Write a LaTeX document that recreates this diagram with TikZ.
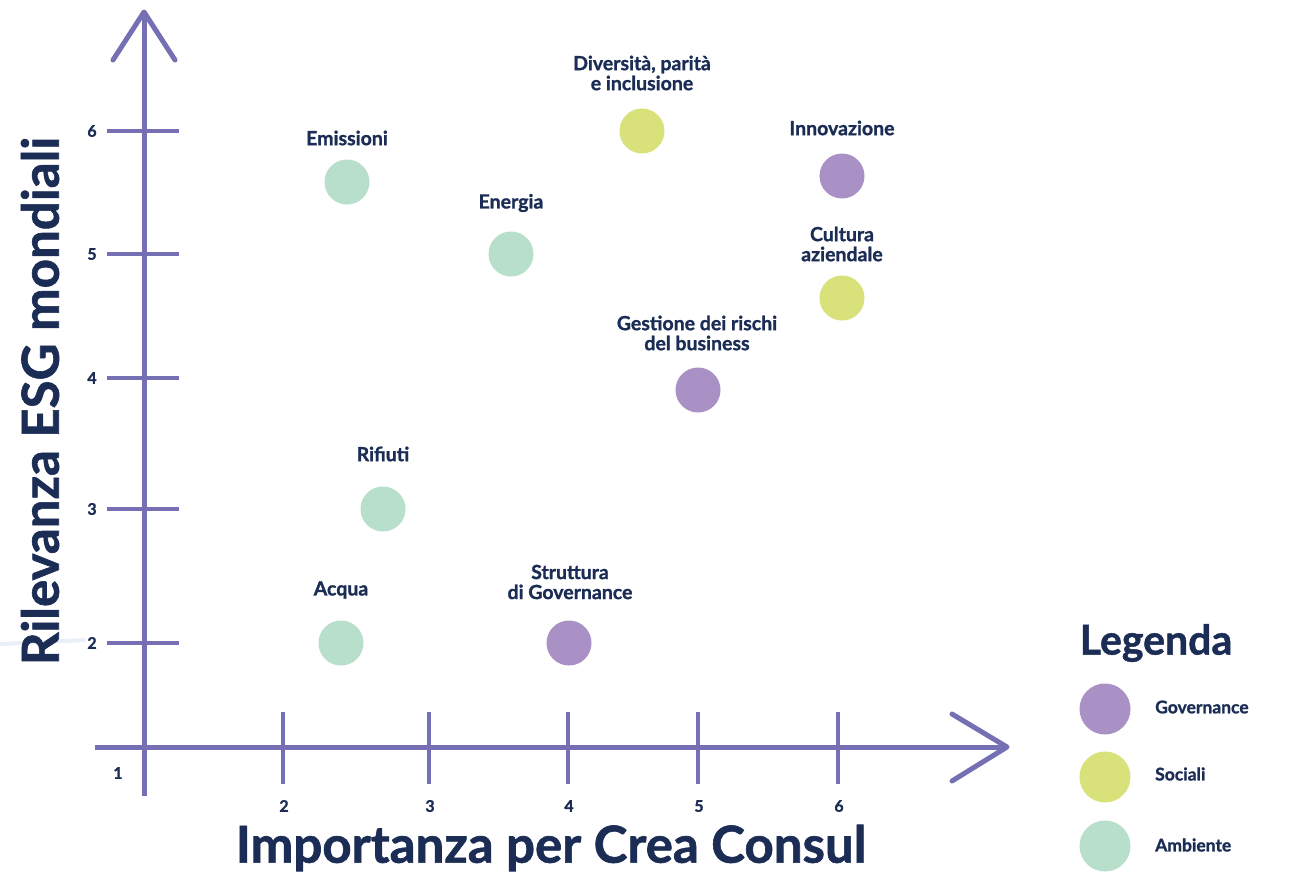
\documentclass[tikz,border=0pt]{standalone}
\usepackage{fontspec}
\setmainfont{Lato}[BoldFeatures={FakeBold=1.2}]
\definecolor{axis}{HTML}{7570B3}
\definecolor{txt}{HTML}{1B2D55}
\definecolor{gov}{HTML}{AA91C5}
\definecolor{soc}{HTML}{D9E27A}
\definecolor{amb}{HTML}{B7DFCB}
\definecolor{faint}{HTML}{EAF0F8}
\begin{document}
\begin{tikzpicture}[x=1pt,y=-1pt,
  axisline/.style={draw=axis,line width=5pt},
  arrowarm/.style={draw=axis,line width=5pt,line cap=round},
  tick/.style={draw=axis,line width=4.5pt},
  ticklab/.style={text=txt,font=\fontsize{16}{17}\selectfont\bfseries,inner sep=0pt},
  dot/.style={circle,minimum size=45pt,inner sep=0pt},
  ldot/.style={circle,minimum size=51pt,inner sep=0pt},
  plab/.style={text=txt,font=\fontsize{19.5}{20}\selectfont\bfseries,align=center,inner sep=0pt},
  title/.style={text=txt,font=\fontsize{51}{54}\selectfont\bfseries,inner sep=0pt},
  leglab/.style={text=txt,font=\fontsize{17.5}{20}\selectfont\bfseries,anchor=west,inner sep=0pt}]
\useasboundingbox (0,0) rectangle (1302,871);
\fill[white] (0,0) rectangle (1302,871);
% faint stroke
\draw[faint,line width=4pt] (0,644) -- (85,640);
% axes
\coordinate (ytop) at (144,12);
\coordinate (ybot) at (144,796);
\coordinate (xleft) at (95,747);
\coordinate (xright) at (1007,747);
\coordinate (ya1) at (113,60);
\coordinate (ya2) at (175,60);
\coordinate (xa1) at (952,714);
\coordinate (xa2) at (952,781);
\draw[axisline] (ybot) -- (ytop);
\draw[axisline] (xleft) -- (xright);
\draw[arrowarm,line join=round] (ya1) -- (ytop) -- (ya2);
\draw[arrowarm,line join=round] (xa1) -- (xright) -- (xa2);
% y ticks
\foreach \v/\y in {6/131,5/254,4/378,3/509,2/643}{
  \draw[tick] (107,\y) -- (179,\y);
  \node[ticklab] (yl\v) at (92,\y) {\v};
}
% x ticks
\foreach \v/\x in {2/283,3/429,4/568,5/698,6/838}{
  \draw[tick] (\x,712) -- (\x,784);
  \node[ticklab] (xl\v) at (\x+1,806) {\v};
}
\node[ticklab] (xl1) at (118,773) {1};
% titles
\node[title] (xt) at (551,848) {Importanza per Crea Consul};
\node[title,rotate=90] (yt) at (40,401) {Rilevanza ESG mondiali};
% points
\node[dot,fill=amb] (emi) at (347,182) {};
\node[plab] (emil) at (347,138) {Emissioni};
\node[dot,fill=amb] (ene) at (511,254) {};
\node[plab] (enel) at (511,203) {Energia};
\node[dot,fill=soc] (div) at (642,131) {};
\node[plab] (divl) at (642,73) {Diversità, parità\\e inclusione};
\node[dot,fill=gov] (inn) at (842,176) {};
\node[plab] (innl) at (842,128) {Innovazione};
\node[dot,fill=soc] (cul) at (842,298) {};
\node[plab] (cull) at (842,244) {Cultura\\aziendale};
\node[dot,fill=gov] (ges) at (698,390) {};
\node[plab] (gesl) at (697,333) {Gestione dei rischi\\del business};
\node[dot,fill=amb] (rif) at (383,509) {};
\node[plab] (rifl) at (383,454) {Rifiuti};
\node[dot,fill=amb] (acq) at (341,643) {};
\node[plab] (acql) at (341,590) {Acqua};
\node[dot,fill=gov] (str) at (569,643) {};
\node[plab] (strl) at (570,582) {Struttura\\di Governance};
% legend
\node[text=txt,font=\fontsize{41}{44}\selectfont\bfseries,inner sep=0pt] (leg) at (1156,643) {Legenda};
\node[ldot,fill=gov] (lg) at (1105,709) {};
\node[leglab] (lgl) at (1155,707) {Governance};
\node[ldot,fill=soc] (ls) at (1105,777) {};
\node[leglab] (lsl) at (1155,774) {Sociali};
\node[ldot,fill=amb] (la) at (1105,846) {};
\node[leglab] (lal) at (1155,845) {Ambiente};
\end{tikzpicture}
\end{document}
